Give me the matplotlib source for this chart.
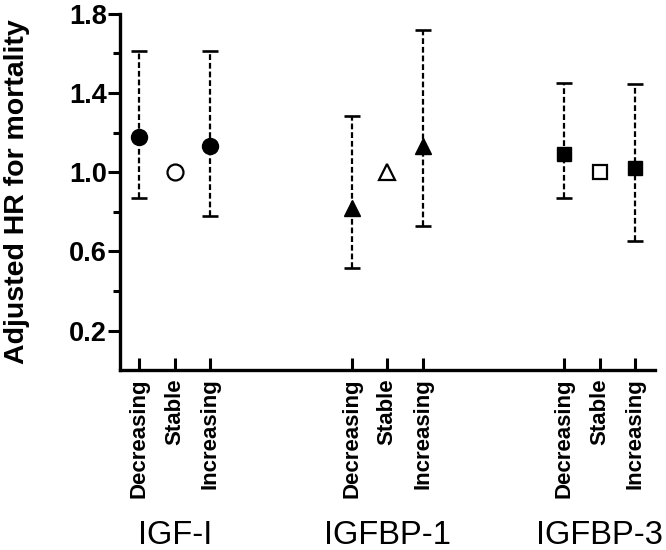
import matplotlib
matplotlib.use("Agg")
import matplotlib.pyplot as plt
from matplotlib.ticker import FixedLocator

plt.rcParams['font.family'] = ['Liberation Sans', 'DejaVu Sans']

groups = ["IGF-I", "IGFBP-1", "IGFBP-3"]
categories = ["Decreasing", "Stable", "Increasing"]
positions = [1, 2, 3, 7, 8, 9, 13, 14, 15]
hr = [1.18, 1.00, 1.13, 0.82, 1.00, 1.13, 1.09, 1.00, 1.02]
ci_low = [0.87, 1.00, 0.78, 0.515, 1.00, 0.73, 0.87, 1.00, 0.65]
ci_high = [1.61, 1.00, 1.61, 1.285, 1.00, 1.72, 1.45, 1.00, 1.445]
markers = ["o", "o", "o", "^", "^", "^", "s", "s", "s"]
filled = [True, False, True, True, False, True, True, False, True]
yticks_major = [0.2, 0.6, 1.0, 1.4, 1.8]
yticks_minor = [0.4, 0.8, 1.2, 1.6]

fig = plt.figure(figsize=(6.66, 5.5), dpi=100)
ax = fig.add_axes([0.180, 0.327, 0.803, 0.648])

msize = {"o": 11.5, "^": 11.5, "s": 10.5}
for x, y, lo, hi, m, f in zip(positions, hr, ci_low, ci_high, markers, filled):
    if hi > lo:
        eb = ax.errorbar([x], [y], yerr=[[y - lo], [hi - y]], fmt="none",
                         ecolor="black", elinewidth=1.6, capsize=6, capthick=1.9,
                         zorder=2)
        eb[2][0].set_linestyle((0, (2.6, 1.3)))
    ax.plot([x], [y], marker=m, markersize=msize[m],
            markerfacecolor="black" if f else "white",
            markeredgecolor="black", markeredgewidth=1.6 if not f else 1.0,
            linestyle="none", zorder=3)

ax.set_xlim(0.45, 15.55)
ax.set_ylim(0, 1.8)

ax.spines['top'].set_visible(False)
ax.spines['right'].set_visible(False)
ax.spines['left'].set_linewidth(2.4)
ax.spines['bottom'].set_linewidth(2.4)

ax.yaxis.set_major_locator(FixedLocator(yticks_major))
ax.yaxis.set_minor_locator(FixedLocator(yticks_minor))
ax.set_yticklabels([f"{v:.1f}" for v in yticks_major], fontsize=19.5, fontweight="bold")
ax.tick_params(axis='y', which='major', length=8.5, width=2.2, pad=1)
ax.tick_params(axis='y', which='minor', length=5, width=2.2)

ax.set_xticks(positions)
ax.set_xticklabels(categories * 3, rotation=90, fontsize=16, fontweight="bold")
ax.tick_params(axis='x', which='major', direction='in', length=9, width=2.2, pad=6)

ax.set_ylabel("Adjusted HR for mortality", fontsize=20.5, fontweight="bold")
ax.yaxis.set_label_coords(-0.168, 0.5)

for i, g in enumerate(groups):
    ax.text(positions[3 * i + 1], -0.487, g, transform=ax.get_xaxis_transform(),
            ha="center", va="baseline", fontsize=23.5)

fig.savefig("out.png", dpi=100)
